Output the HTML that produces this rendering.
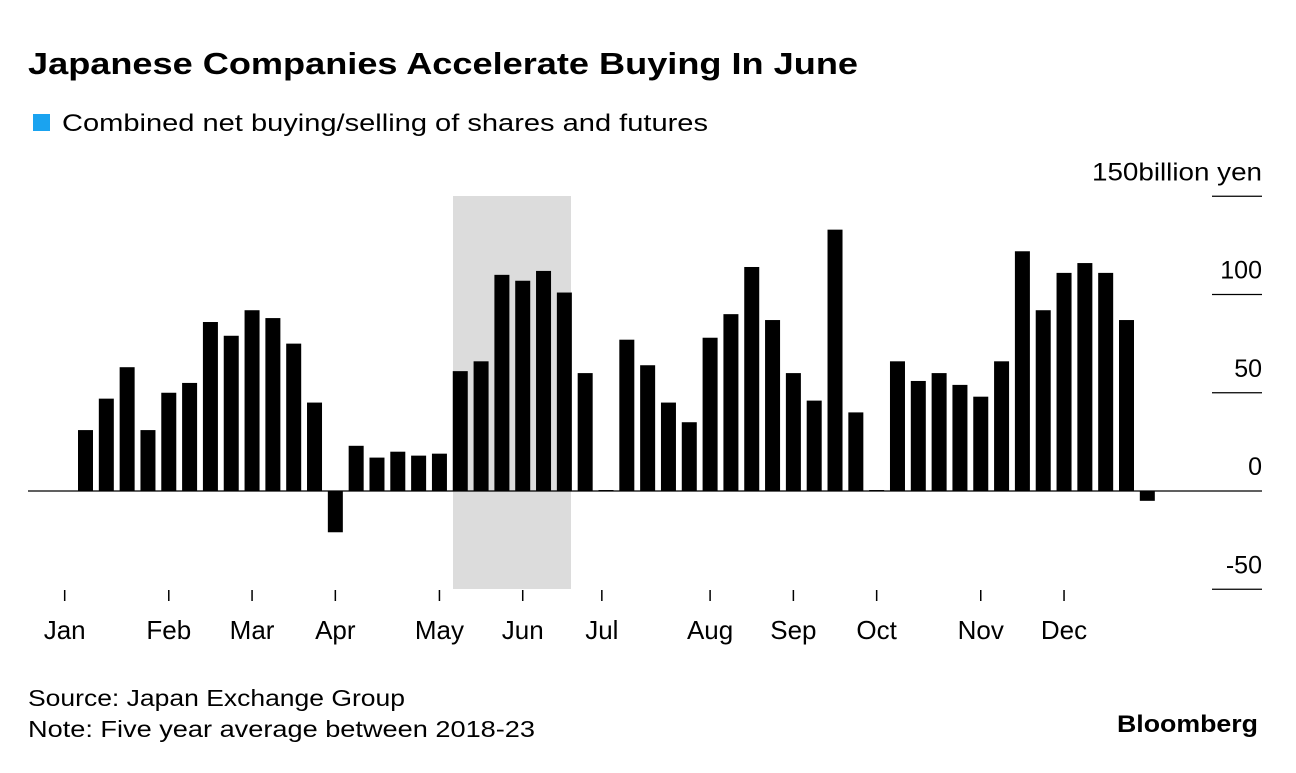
<!DOCTYPE html>
<html><head><meta charset="utf-8"><style>
body{margin:0;background:#fff;width:1296px;height:768px;overflow:hidden;font-family:"Liberation Sans",sans-serif;}
</style></head><body>
<svg width="1296" height="768" id="chart" font-family="Liberation Sans, sans-serif">
<text x="28" y="74" font-size="31" font-weight="bold" fill="#000" textLength="830" lengthAdjust="spacingAndGlyphs">Japanese Companies Accelerate Buying In June</text>
<rect x="33" y="114" width="17" height="17" fill="#1aa3f0"/>
<text x="62" y="131" font-size="24" fill="#000" textLength="646" lengthAdjust="spacingAndGlyphs">Combined net buying/selling of shares and futures</text>
<rect x="453" y="196" width="118" height="393" fill="#dcdcdc"/>
<g id="grid"></g><g id="bars"></g><g id="xaxis"></g>
<text x="28" y="706" font-size="23" fill="#000" textLength="377" lengthAdjust="spacingAndGlyphs">Source: Japan Exchange Group</text>
<text x="28" y="737" font-size="23" fill="#000" textLength="507" lengthAdjust="spacingAndGlyphs">Note: Five year average between 2018-23</text>
<text x="1117" y="732" font-size="24" font-weight="bold" fill="#000" textLength="141" lengthAdjust="spacingAndGlyphs">Bloomberg</text>
</svg>
<script>
const values=[31,47,63,31,50,55,86,79,92,88,75,45,-21,23,17,20,18,19,61,66,110,107,112,101,60,0.5,77,64,45,35,78,90,114,87,60,46,133,40,0.5,66,56,60,54,48,66,122,92,111,116,111,87,-5];
const yTicks=[150,100,50,0,-50];
const yTickLabels=["150","100","50","0","-50"];
const months=["Jan","Feb","Mar","Apr","May","Jun","Jul","Aug","Sep","Oct","Nov","Dec"];
const monthPos=[-1,4,8,12,17,21,24.8,30,34,38,43,47];
const NS="http://www.w3.org/2000/svg";
const y=v=>491-v*1.965;
const x=i=>85.5+i*20.82;
const grid=document.getElementById('grid'),bars=document.getElementById('bars'),xa=document.getElementById('xaxis');
function mk(tag,attrs,parent){const e=document.createElementNS(NS,tag);for(const k in attrs)e.setAttribute(k,attrs[k]);parent.appendChild(e);return e;}
yTicks.forEach((t,i)=>{
 const l=mk('line',{x1:1212,x2:1262,y1:y(t),y2:y(t),stroke:'#000','stroke-width':1.3},grid);
 
 
 const tx=mk('text',{x:1262,y:y(t)-16,'font-size':25,'text-anchor':'end',fill:'#000'},grid);
 tx.textContent=yTickLabels[i];
 if(t===150){tx.setAttribute('x',1092);tx.setAttribute('text-anchor','start');tx.setAttribute('textLength',170);tx.setAttribute('lengthAdjust','spacingAndGlyphs');tx.textContent='150billion yen';}
 
 
});
values.forEach((v,i)=>{
 const top=Math.min(y(v),y(0)),h=Math.max(Math.abs(y(v)-y(0)),1);
 const r=mk('rect',{x:x(i)-7.5,y:top,width:15,height:h,fill:'#000'},bars);
 
 
});
const zl=mk('line',{x1:28,x2:1212,y1:y(0),y2:y(0),stroke:'#000','stroke-width':1.3},bars);


months.forEach((m,i)=>{
 const px=x(monthPos[i]);
 const t=mk('line',{x1:px,x2:px,y1:590,y2:601,stroke:'#000','stroke-width':1.5},xa);
 
 
 const tx=mk('text',{x:px,y:639,'font-size':26,'text-anchor':'middle',fill:'#000'},xa);
 tx.textContent=m;
 
 
});
</script>
</body></html>
